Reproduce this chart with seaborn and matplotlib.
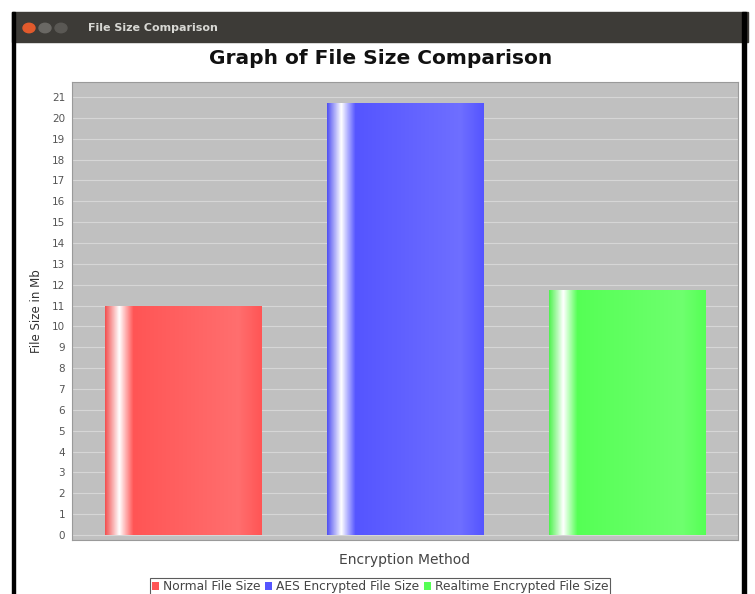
import numpy as np
import pandas as pd
import matplotlib
matplotlib.use("Agg")
import matplotlib.pyplot as plt
import seaborn as sns
from matplotlib.colors import LinearSegmentedColormap, to_rgb
from matplotlib.patches import Patch, Rectangle, Circle

series = ["Normal File Size", "AES Encrypted File Size", "Realtime Encrypted File Size"]
sizes_mb = [11.0, 20.7, 11.75]
method = [""] * 3
colors = ["#ff5555", "#5555ff", "#55ff55"]
yticks = list(range(0, 22))

df = pd.DataFrame({"method": method, "series": series, "size": sizes_mb})

sns.set_style("white")
plt.rcParams["font.family"] = ["DejaVu Sans"]
fig = plt.figure(figsize=(7.55, 5.94), dpi=100)

# window frame (title bar + black border)
fig.patches.append(Rectangle((12 / 755, 1 - 42 / 594), 736 / 755, 30 / 594,
                             transform=fig.transFigure, color="#3d3b37", zorder=0))
fig.patches.append(Rectangle((12 / 755, 0), 3 / 755, 1 - 12 / 594,
                             transform=fig.transFigure, color="black", zorder=0))
fig.patches.append(Rectangle((742 / 755, 0), 4 / 755, 1 - 12 / 594,
                             transform=fig.transFigure, color="black", zorder=0))
for cx, col in [(29, "#e25a2c"), (45, "#6a6864"), (61, "#5a5854")]:
    fig.patches.append(Circle((cx / 755, 1 - 28 / 594), 6 / 755, transform=fig.transFigure,
                              color=col, zorder=1))
fig.text(88 / 755, 1 - 28 / 594, "File Size Comparison", color="#d8d8d4", fontsize=8,
         fontweight="bold", va="center", ha="left")

ax = fig.add_axes([72 / 755, 1 - 540 / 594, 666 / 755, 458 / 594])
ax.set_facecolor("#c0c0c0")
sns.barplot(data=df, x="method", y="size", hue="series", palette=colors,
            width=1.0, gap=0.295, ax=ax, legend=False, zorder=2,
            edgecolor="none", linewidth=0)

ax.set_xlim(-0.5, 0.5)
ax.set_ylim(-0.24, 21.72)
ax.set_yticks(yticks)
ax.set_yticklabels([str(t) for t in yticks], fontsize=7.5, color="#555555")
ax.tick_params(axis="y", length=2, color="#999999", pad=3)
ax.tick_params(axis="x", length=0)
ax.set_xticklabels([])
ax.yaxis.grid(True, color="#d6d6d6", lw=0.8, zorder=0)
ax.set_axisbelow(True)
for s in ax.spines.values():
    s.set_color("#9a9a9a")
    s.set_linewidth(0.8)

# gradient fill in the JFreeChart style, clipped to each bar
for patch, col in zip(ax.patches, colors):
    c = np.array(to_rgb(col))
    cmap = LinearSegmentedColormap.from_list("g", [
        (0.0, c * 0.95), (0.09, (1, 1, 1)), (0.18, c),
        (0.85, np.minimum(c + 0.1, 1)), (1.0, c)])
    x0, y0 = patch.get_x(), patch.get_y()
    w, h = patch.get_width(), patch.get_height()
    im = ax.imshow(np.linspace(0, 1, 256)[None, :], cmap=cmap, aspect="auto",
                   extent=(x0, x0 + w, y0, y0 + h), zorder=3, interpolation="bilinear")
    im.set_clip_path(patch)
ax.set_xlim(-0.5, 0.5)
ax.set_ylim(-0.24, 21.72)

fig.text(381 / 755, 1 - 58 / 594, "Graph of File Size Comparison", fontsize=14.5,
         fontweight="bold", ha="center", va="center", color="#111111")
ax.set_ylabel("File Size in Mb", fontsize=8.5, color="#333333", labelpad=6)
ax.set_xlabel("Encryption Method", fontsize=10, color="#444444", labelpad=6)

handles = [Patch(facecolor=c, edgecolor="none") for c in colors]
leg = ax.legend(handles, series, loc="upper center", bbox_to_anchor=(0.4625, -0.070),
                ncol=3, fontsize=8.8, frameon=True, fancybox=False, handlelength=0.6,
                handleheight=0.6, handletextpad=0.3, columnspacing=0.4,
                borderpad=0.15, labelcolor="#444444")
leg.get_frame().set_edgecolor("#333333")
leg.get_frame().set_linewidth(0.8)

fig.savefig("out.png", dpi=100)
